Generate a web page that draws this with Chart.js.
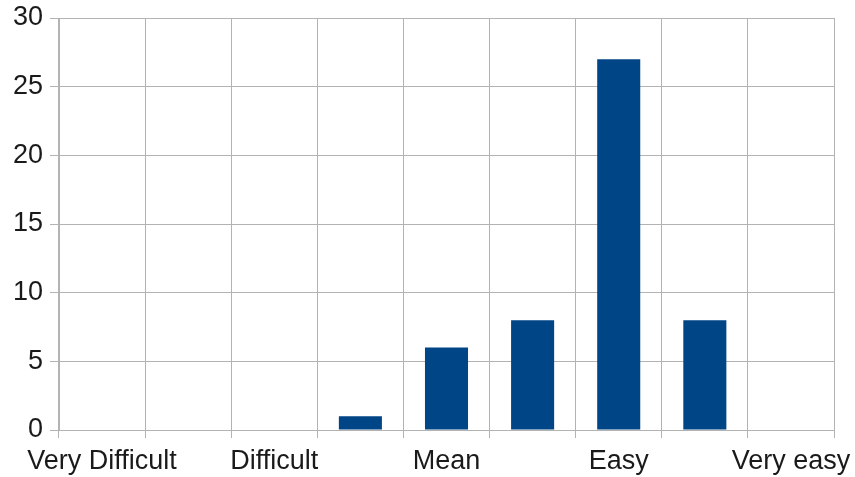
<!DOCTYPE html>
<html>
<head>
<meta charset="utf-8">
<script src="https://cdn.jsdelivr.net/npm/chart.js@4/dist/chart.umd.min.js"></script>
<style>
  html, body { margin: 0; padding: 0; background: #fff; }
  #wrap { width: 855px; height: 477px; }
</style>
</head>
<body>
<div id="wrap"><canvas id="barchart" width="855" height="477"></canvas></div>
<script>
// categories (only every other one carries a label)
var categories = ['Very Difficult', '', 'Difficult', '', 'Mean', '', 'Easy', '', 'Very easy'];
var counts = [0, 0, 0, 1, 6, 8, 27, 8, 0];
var yTicks = [0, 5, 10, 15, 20, 25, 30];

var gridColor = '#b3b3b3';
var textColor = '#1a1a1a';

function initBarChart() {
    var ctx = document.getElementById('barchart').getContext('2d');

    new Chart(ctx, {
        type: 'bar',
        data: {
            labels: categories,
            datasets: [{
                data: counts,
                backgroundColor: '#004586',
                borderWidth: 0,
                barPercentage: 0.5,
                categoryPercentage: 1.0
            }]
        },
        options: {
            responsive: false,
            animation: false,
            layout: { padding: { top: 18, right: 21, left: 0, bottom: 0 } },
            plugins: {
                legend: { display: false },
                tooltip: { enabled: false }
            },
            scales: {
                x: {
                    grid: { color: gridColor, lineWidth: 1, tickLength: 8, offset: true },
                    border: { color: gridColor },
                    ticks: {
                        autoSkip: false,
                        maxRotation: 0,
                        padding: 7,
                        color: textColor,
                        font: { family: 'Liberation Sans', size: 27 }
                    },
                    afterFit: function (scale) {
                        scale.height = 47;
                        scale.paddingLeft = 0;
                        scale.paddingRight = 0;
                    }
                },
                y: {
                    min: 0,
                    max: 30,
                    afterBuildTicks: function (scale) {
                        scale.ticks = yTicks.map(function (v) { return { value: v }; });
                    },
                    grid: { color: gridColor, lineWidth: 1, tickLength: 9 },
                    border: { color: gridColor },
                    ticks: {
                        padding: 7,
                        color: textColor,
                        font: { family: 'Liberation Sans', size: 27 }
                    },
                    afterFit: function (scale) {
                        scale.width = 59;
                        scale.paddingTop = 0;
                        scale.paddingBottom = 0;
                    }
                }
            }
        }
    });
}

document.addEventListener('DOMContentLoaded', initBarChart);
</script>
</body>
</html>
